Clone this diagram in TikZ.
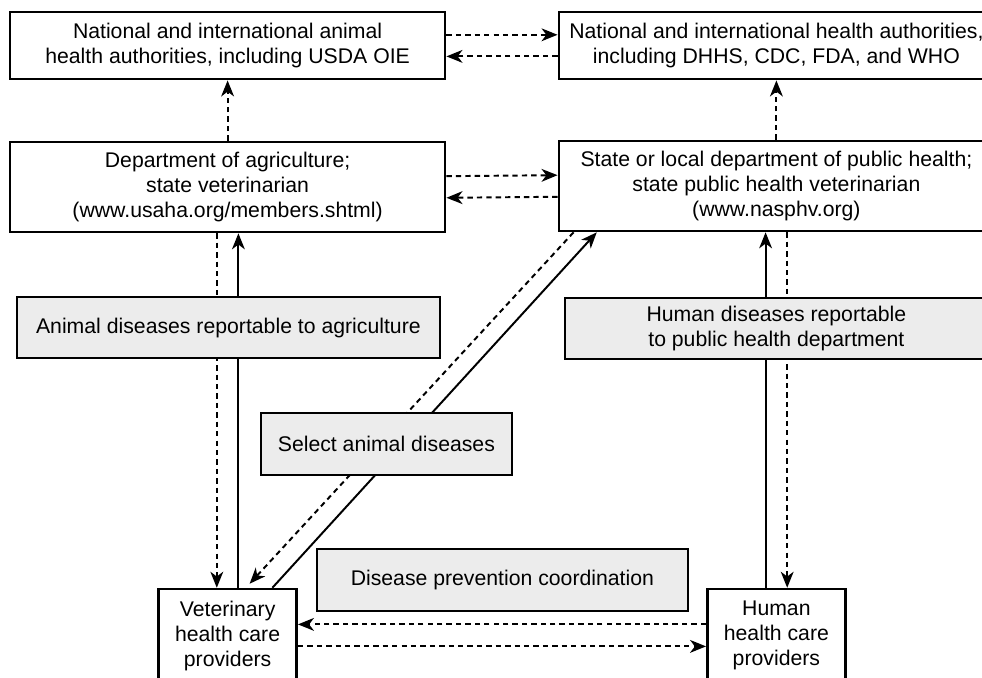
\documentclass[tikz,border=0pt]{standalone}
\usepackage{fontspec}
\setmainfont{Liberation Sans}
\usetikzlibrary{arrows.meta}

\begin{document}
\begin{tikzpicture}[line width=1.9pt,
    every node/.style={font=\fontsize{15.1}{17.8}\selectfont, align=center, inner sep=0pt},
    agency/.style={draw, fill=white, minimum width=10.875cm},
    topic/.style={draw, fill=gray!15, minimum height=1.525cm},
    link/.style={line width=1.4pt, -{Stealth[length=4mm, width=3.2mm, inset=1.2mm]}},
    report/.style={link, dash pattern=on 3.8pt off 2.9pt}]
    \useasboundingbox (0,0) rectangle (24.55,16.95);

    \node[agency, minimum height=1.675cm] (natanimal) at (5.69,15.81) {National and international animal\\health authorities, including USDA OIE};
    \node[agency, minimum height=1.675cm] (nathealth) at (19.41,15.81) {National and international health authorities,\\including DHHS, CDC, FDA, and WHO};

    \node[agency, minimum height=2.25cm] (agri) at (5.69,12.275) {Department of agriculture;\\state veterinarian\\(www.usaha.org/members.shtml)};
    \node[agency, minimum height=2.25cm] (pubhealth) at (19.41,12.3) {State or local department of public health;\\state public health veterinarian\\(www.nasphv.org)};

    \node[draw, fill=white, minimum width=3.45cm, minimum height=2.325cm] (vet) at (5.69,1.06) {Veterinary\\health care\\providers};
    \node[draw, fill=white, minimum width=3.45cm, minimum height=2.325cm] (human) at (19.41,1.06) {Human\\health care\\providers};

    % top level
    \draw[report] ([yshift=0.27cm]natanimal.east) -- ([yshift=0.27cm]nathealth.west);
    \draw[report] ([yshift=-0.27cm]nathealth.west) -- ([yshift=-0.27cm]natanimal.east);
    \draw[report] (agri) -- (natanimal);
    \draw[report] (pubhealth) -- (nathealth);

    % state level
    \draw[report] ([yshift=0.27cm]agri.east) -- ([yshift=0.27cm]pubhealth.west);
    \draw[report] ([yshift=-0.27cm]pubhealth.west) -- ([yshift=-0.27cm]agri.east);

    % down to the providers
    \draw[report] ([xshift=-0.27cm]agri.south) -- ([xshift=-0.27cm]vet.north);
    \draw[link] ([xshift=0.27cm]vet.north) -- ([xshift=0.27cm]agri.south);
    \draw[report] ([xshift=0.27cm]pubhealth.south) -- ([xshift=0.27cm]human.north);
    \draw[link] ([xshift=-0.27cm]human.north) -- ([xshift=-0.27cm]pubhealth.south);
    \draw[report] ([xshift=0.4cm]pubhealth.south west) -- ([xshift=0.55cm,yshift=0.1cm]vet.north);
    \draw[link] ([xshift=1.12cm]vet.north) -- ([xshift=0.98cm]pubhealth.south west);

    % providers
    \draw[report] ([yshift=0.28cm]human.west) -- ([yshift=0.28cm]vet.east);
    \draw[report] ([yshift=-0.27cm]vet.east) -- ([yshift=-0.27cm]human.west);

    \node[topic, minimum width=10.575cm] (animaldis) at (5.71,8.76) {Animal diseases reportable to agriculture};
    \node[topic, minimum width=10.575cm] (humandis) at (19.41,8.74) {Human diseases reportable\\to public health department};
    \node[topic, minimum width=6.275cm, minimum height=1.55cm] (select) at (9.66,5.85) {Select animal diseases};
    \node[topic, minimum width=9.275cm, minimum height=1.55cm] (prevent) at (12.56,2.45) {Disease prevention coordination};
\end{tikzpicture}
\end{document}
